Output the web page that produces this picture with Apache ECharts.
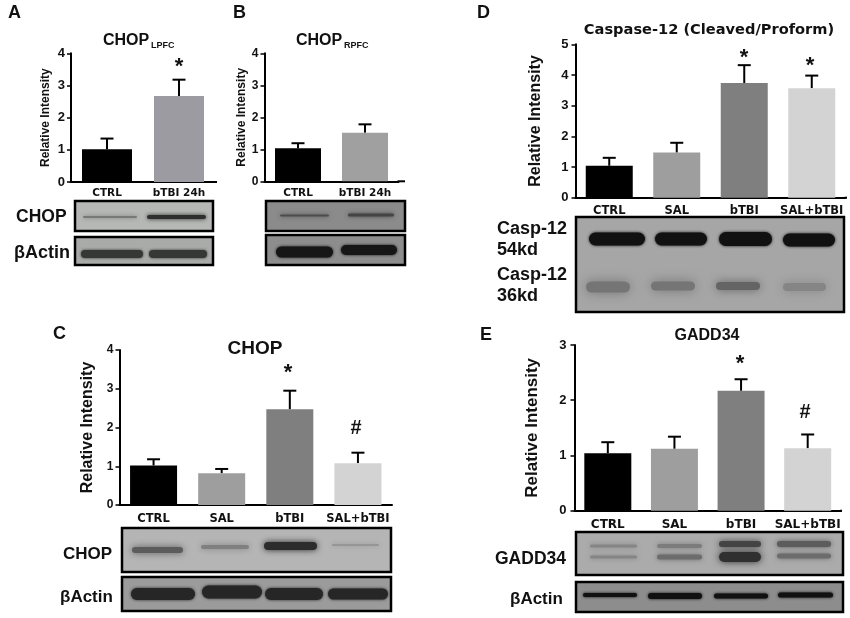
<!DOCTYPE html>
<html>
<head>
<meta charset="utf-8">
<title>CHOP, Caspase-12, GADD34</title>
<style>
html,body{margin:0;padding:0;background:#fff;}
#main{width:850px;height:618px;}
</style>
<script src="https://cdn.jsdelivr.net/npm/echarts@6/dist/echarts.min.js"></script>
</head>
<body>
<div id="main"></div>
<script>
// values
var groupsTwo = ['CTRL', 'bTBI 24h'];
var groupsFour = ['CTRL', 'SAL', 'bTBI', 'SAL+bTBI'];

var meanA = [1.02, 2.67];
var errorA = [1.35, 3.18];
var meanB = [1.03, 1.52];
var errorB = [1.19, 1.78];
var meanC = [1.02, 0.82, 2.47, 1.08];
var errorC = [1.18, 0.93, 2.95, 1.35];
var meanD = [1.04, 1.47, 3.74, 3.57];
var errorD = [1.30, 1.79, 4.32, 3.98];
var meanE = [1.04, 1.12, 2.17, 1.13];
var errorE = [1.24, 1.34, 2.38, 1.38];

var colorsA = ['#000000', '#9b9ba1'];
var colorsB = ['#000000', '#a0a0a0'];
var colorsFour = ['#000000', '#9e9e9e', '#7f7f7f', '#d3d3d3'];

var FONT = '"Liberation Sans", Arial, sans-serif';
var WIDE = '"DejaVu Sans", sans-serif';

var panels = [
	{cats: groupsTwo, mean: meanA, err: errorA, colors: colorsA, max: 4, left: 71, top: 53.3, width: 144, height: 128.7, axisEnd: 217, barWidth: 50, labelSize: 10.5, labelGap: 6, tickSize: 13, tickGap: 6, name: 12, nameGap: 19},
	{cats: groupsTwo, mean: meanB, err: errorB, colors: colorsB, max: 4, left: 264.5, top: 53.3, width: 134, height: 128, axisEnd: 405, barWidth: 46, labelSize: 10.5, labelGap: 6, tickSize: 12, tickGap: 6, name: 12, nameGap: 16},
	{cats: groupsFour, mean: meanC, err: errorC, colors: colorsFour, max: 4, left: 119.5, top: 350, width: 272.5, height: 155, axisEnd: 392, barWidth: 47, labelSize: 11.5, labelGap: 8, tickSize: 12, tickGap: 6, name: 16, nameGap: 24},
	{cats: groupsFour, mean: meanD, err: errorD, colors: colorsFour, max: 5, left: 575.5, top: 44.3, width: 270, height: 153.4, axisEnd: 847, barWidth: 47, labelSize: 11.5, labelGap: 7, tickSize: 13, tickGap: 7, name: 16, nameGap: 32},
	{cats: groupsFour, mean: meanE, err: errorE, colors: colorsFour, max: 3, left: 574.5, top: 345, width: 266.5, height: 165.7, axisEnd: 842, barWidth: 47, labelSize: 12, labelGap: 8, tickSize: 13, tickGap: 8, name: 17, nameGap: 34}
];

function errorItem(params, api) {
	var top = api.coord([api.value(0), api.value(2)]);
	var base = api.coord([api.value(0), api.value(1)]);
	var style = {stroke: '#000', lineWidth: 2, fill: 'none'};
	return {
		type: 'group',
		children: [
			{type: 'line', shape: {x1: top[0], y1: base[1], x2: top[0], y2: top[1]}, style: style},
			{type: 'line', shape: {x1: top[0] - 6.5, y1: top[1], x2: top[0] + 6.5, y2: top[1]}, style: style}
		]
	};
}

var grids = [], xAxes = [], yAxes = [], series = [], graphics = [];

panels.forEach(function (p, i) {
	grids.push({left: p.left, top: p.top, width: p.width, height: p.height, containLabel: false});
	xAxes.push({
		type: 'category', gridIndex: i, data: p.cats,
		axisLine: {onZero: false, lineStyle: {color: '#000', width: 2}},
		axisTick: {alignWithLabel: true, length: 4, lineStyle: {color: '#000', width: 1.5}},
		axisLabel: {interval: 0, color: '#111', margin: p.labelGap, hideOverlap: false, fontFamily: WIDE, fontWeight: 'bold', fontSize: p.labelSize}
	});
	yAxes.push({
		type: 'value', gridIndex: i, min: 0, max: p.max, interval: 1,
		name: 'Relative Intensity', nameLocation: 'middle', nameGap: p.nameGap,
		nameTextStyle: {color: '#111', fontFamily: FONT, fontWeight: 'bold', fontSize: p.name},
		splitLine: {show: false},
		axisLine: {show: true, lineStyle: {color: '#000', width: 2}},
		axisTick: {show: true, length: 4, lineStyle: {color: '#000', width: 1.5}},
		axisLabel: {color: '#111', margin: p.tickGap, fontFamily: FONT, fontWeight: 'bold', fontSize: p.tickSize}
	});
	series.push({
		type: 'custom', xAxisIndex: i, yAxisIndex: i, z: 1, silent: true,
		renderItem: errorItem,
		encode: {x: 0, y: 2},
		data: p.cats.map(function (c, k) { return [k, p.mean[k], p.err[k]]; })
	});
	series.push({
		type: 'bar', xAxisIndex: i, yAxisIndex: i, z: 2, silent: true,
		barWidth: p.barWidth,
		data: p.mean.map(function (v, k) { return {value: v, itemStyle: {color: p.colors[k]}}; })
	});
	// the axis line runs a little past the last band
	graphics.push({
		type: 'line', silent: true,
		shape: {x1: p.left + p.width - 1, y1: p.top + p.height, x2: p.axisEnd, y2: p.top + p.height},
		style: {stroke: '#000', lineWidth: 2}
	});
});

function txt(x, y, s, size, family, align) {
	graphics.push({
		type: 'text', silent: true, x: x, y: y,
		style: {text: s, fill: '#111', align: align || 'left', verticalAlign: 'middle',
			font: 'bold ' + size + 'px ' + (family || FONT)}
	});
}

// blot strip: grey photo background, soft bands, heavy black frame
function blot(x, y, w, h, bg, bands) {
	graphics.push({type: 'rect', silent: true, shape: {x: x, y: y, width: w, height: h}, style: {fill: bg}});
	bands.forEach(function (b) {
		graphics.push({
			type: 'rect', silent: true,
			shape: {x: b[0], y: b[1] - b[3] / 2, width: b[2] - b[0], height: b[3], r: b[3] / 2},
			style: {fill: b[4], shadowBlur: b[5], shadowColor: b[4]}
		});
	});
	graphics.push({type: 'rect', silent: true, shape: {x: x, y: y, width: w, height: h}, style: {fill: 'none', stroke: '#000', lineWidth: 2.5}});
}

// A
blot(75, 201, 138, 30, '#b6b8b6', [[83, 217, 137, 2, '#777977', 4], [147, 217, 206, 4, '#2e2e2e', 4]]);
blot(75, 237, 138, 28, '#a9aba9', [[81, 254, 143, 8, '#353835', 3], [149, 254, 207, 8, '#353835', 3]]);
// B
blot(266, 201, 139, 30, '#8b8b8b', [[280, 215.5, 329, 2, '#4c4c4c', 4], [348, 215, 394, 3, '#444444', 4]]);
blot(266, 235, 139, 30, '#8d8d8d', [[276, 252, 333, 11, '#161616', 3], [341, 250, 397, 10, '#161616', 3]]);
// C
blot(122, 528, 269, 44, '#b5b5b5', [[132, 550, 183, 6, '#5c5c5c', 7], [201, 547, 249, 4, '#808080', 6], [264, 546, 317, 8, '#2c2c2c', 6], [332, 545, 379, 2, '#969696', 5]]);
blot(122, 577, 269, 34, '#9b9b9b', [[131, 594, 195, 12, '#262626', 3], [202, 592, 262, 13, '#262626', 3], [265, 594, 323, 12, '#262626', 3], [328, 594, 388, 11, '#262626', 3]]);
// D
blot(576, 217, 268, 95, '#a6a6a6', [
	[589, 239, 645, 13, '#111111', 3], [655, 239, 707, 13, '#111111', 3], [719, 239, 772, 14, '#111111', 3], [783, 240, 835, 13, '#111111', 3],
	[586, 287, 630, 11, '#757575', 12], [651, 286, 695, 9, '#757575', 12], [716, 286, 760, 8, '#646464', 10], [783, 287, 826, 8, '#858585', 11]
]);
// E
blot(576, 532, 267, 43, '#ababab', [
	[590, 546, 637, 3, '#858585', 5], [590, 557, 637, 3, '#858585', 5],
	[657, 546, 702, 4, '#7c7c7c', 5], [657, 557, 702, 5, '#6c6c6c', 5],
	[719, 544, 761, 6, '#444444', 6], [719, 557, 761, 10, '#303030', 7],
	[777, 544, 831, 6, '#5c5c5c', 5], [777, 556, 831, 5, '#6c6c6c', 5]
]);
blot(576, 582, 267, 30, '#8d8d8d', [[583, 595, 637, 4, '#111111', 3], [648, 596, 702, 6, '#111111', 3], [714, 596, 768, 5, '#111111', 3], [778, 595, 833, 5, '#111111', 3]]);

// panel letters
txt(8, 13, 'A', 18);
txt(233, 13, 'B', 18);
txt(53, 334, 'C', 18);
txt(477, 13, 'D', 18);
txt(480, 335, 'E', 18);

// titles
txt(103, 41, 'CHOP', 16);
txt(151, 46, 'LPFC', 9);
txt(296, 41, 'CHOP', 16);
txt(344, 46, 'RPFC', 9);
txt(255, 349, 'CHOP', 19, FONT, 'center');
txt(709, 30.5, 'Caspase-12 (Cleaved/Proform)', 14.6, WIDE, 'center');
txt(707, 336, 'GADD34', 16, FONT, 'center');

// significance marks
txt(179, 67, '*', 22, FONT, 'center');
txt(288, 373, '*', 22, FONT, 'center');
txt(356, 428, '#', 20, FONT, 'center');
txt(744, 58, '*', 22, FONT, 'center');
txt(810, 66, '*', 22, FONT, 'center');
txt(740, 364, '*', 22, FONT, 'center');
txt(805, 412, '#', 20, FONT, 'center');

// blot labels
txt(16, 217, 'CHOP', 17.5);
txt(14, 253, 'βActin', 18);
txt(63, 554, 'CHOP', 17);
txt(60, 597, 'βActin', 17);
txt(497, 229, 'Casp-12', 18);
txt(497, 250, '54kd', 18);
txt(497, 275, 'Casp-12', 18);
txt(497, 296, '36kd', 18);
txt(495, 559, 'GADD34', 17.5);
txt(510, 599, 'βActin', 17);

var myChart = echarts.init(document.getElementById('main'), null, {renderer: 'canvas'});
myChart.setOption({
	animation: false,
	backgroundColor: '#fff',
	tooltip: {show: false},
	grid: grids,
	xAxis: xAxes,
	yAxis: yAxes,
	series: series,
	graphic: {elements: graphics}
});
</script>
</body>
</html>
